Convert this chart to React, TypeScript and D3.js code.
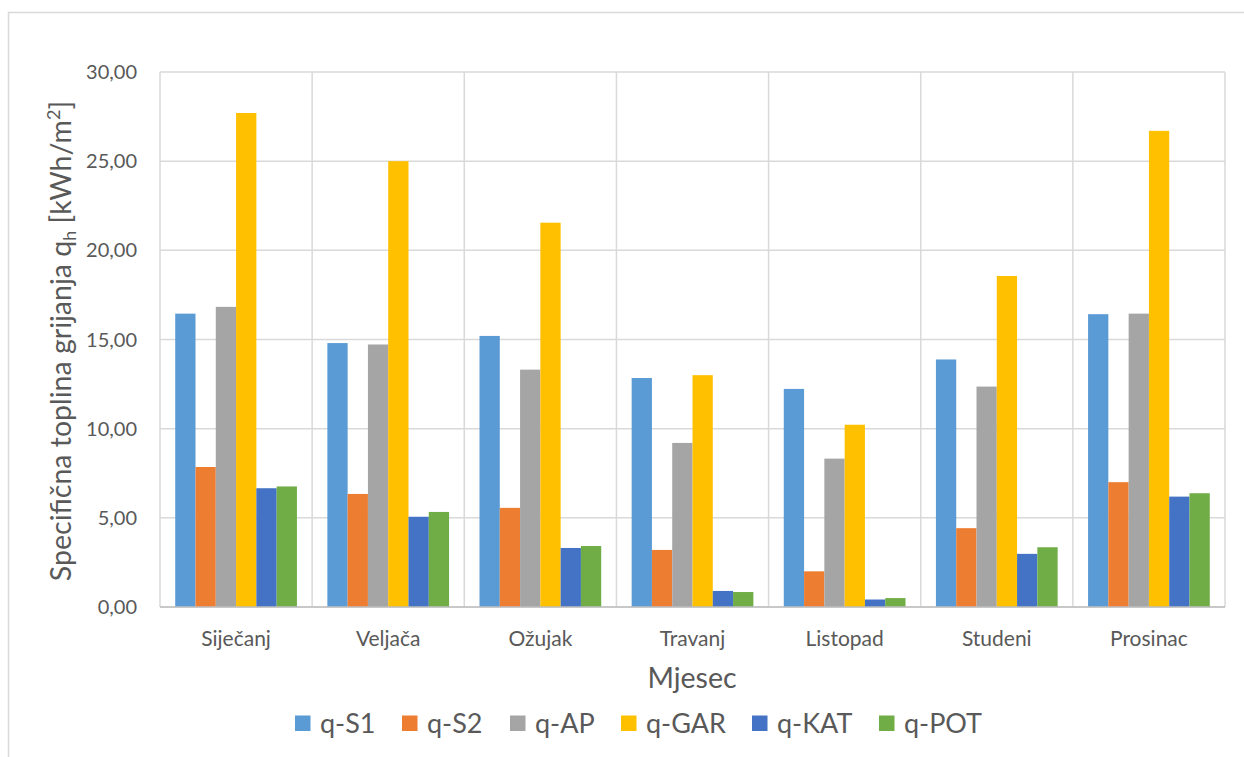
import { useEffect, useRef } from "react";
import * as d3 from "d3";

const WIDTH = 1244;
const HEIGHT = 757;
const MARGIN = { top: 72, right: 19, bottom: 150, left: 160 };
const FONT = "Lato, 'Open Sans', sans-serif";

const months = ["Siječanj", "Veljača", "Ožujak", "Travanj", "Listopad", "Studeni", "Prosinac"];
const seriesNames = ["q-S1", "q-S2", "q-AP", "q-GAR", "q-KAT", "q-POT"];
const seriesColors = ["#5B9BD5", "#ED7D31", "#A5A5A5", "#FFC000", "#4472C4", "#70AD47"];

const qS1 = [16.45, 14.8, 15.2, 12.84, 12.23, 13.88, 16.42];
const qS2 = [7.85, 6.34, 5.56, 3.2, 2.0, 4.42, 7.0];
const qAP = [16.83, 14.72, 13.31, 9.2, 8.32, 12.36, 16.45];
const qGAR = [27.7, 25.0, 21.55, 13.0, 10.22, 18.56, 26.7];
const qKAT = [6.66, 5.06, 3.31, 0.9, 0.42, 2.98, 6.19];
const qPOT = [6.76, 5.33, 3.42, 0.84, 0.5, 3.35, 6.38];
const seriesValues = [qS1, qS2, qAP, qGAR, qKAT, qPOT];

const yTicks = [0, 5, 10, 15, 20, 25, 30];
// legend square x positions
const legendX = [295, 402, 510, 621, 752, 879];

export default function App() {
  const ref = useRef<SVGSVGElement>(null);

  useEffect(() => {
    const svg = d3.select(ref.current);
    svg.selectAll("*").remove();

    const boundsWidth = WIDTH - MARGIN.left - MARGIN.right;
    const boundsHeight = HEIGHT - MARGIN.top - MARGIN.bottom;

    // outer chart frame (cut off on the right and bottom like the reference)
    svg
      .append("rect")
      .attr("x", 8.5)
      .attr("y", 12.5)
      .attr("width", 1300)
      .attr("height", 800)
      .attr("fill", "white")
      .attr("stroke", "#D9D9D9")
      .attr("stroke-width", 1.5);

    const g = svg.append("g").attr("transform", `translate(${MARGIN.left},${MARGIN.top})`);

    const x0 = d3.scaleBand<string>().domain(months).range([0, boundsWidth]);
    const groupPad = (x0.bandwidth() * 1.5) / 7.5 / 2;
    const x1 = d3
      .scaleBand<string>()
      .domain(seriesNames)
      .range([groupPad, x0.bandwidth() - groupPad]);
    const y = d3.scaleLinear().domain([0, 30]).range([boundsHeight, 0]);

    // horizontal grid
    g.selectAll(".hgrid")
      .data(yTicks)
      .join("line")
      .attr("x1", 0)
      .attr("x2", boundsWidth)
      .attr("y1", (d) => y(d))
      .attr("y2", (d) => y(d))
      .attr("stroke", "#D9D9D9")
      .attr("stroke-width", 1.5);

    // vertical grid at category boundaries
    const bounds = months.map((m) => x0(m) as number).concat([boundsWidth]);
    g.selectAll(".vgrid")
      .data(bounds)
      .join("line")
      .attr("x1", (d) => d)
      .attr("x2", (d) => d)
      .attr("y1", 0)
      .attr("y2", boundsHeight)
      .attr("stroke", "#D9D9D9")
      .attr("stroke-width", 1.5);

    // bars
    seriesNames.forEach((s, si) => {
      g.selectAll(`.bar-${si}`)
        .data(seriesValues[si])
        .join("rect")
        .attr("x", (_, i) => (x0(months[i]) as number) + (x1(s) as number))
        .attr("width", x1.bandwidth())
        .attr("y", (d) => y(d))
        .attr("height", (d) => boundsHeight - y(d))
        .attr("fill", seriesColors[si]);
    });

    // x axis line
    g.append("line")
      .attr("x1", 0)
      .attr("x2", boundsWidth)
      .attr("y1", boundsHeight)
      .attr("y2", boundsHeight)
      .attr("stroke", "#BFBFBF")
      .attr("stroke-width", 1.5);

    // y tick labels
    g.selectAll(".ytick")
      .data(yTicks)
      .join("text")
      .attr("x", -23)
      .attr("y", (d) => y(d))
      .attr("dy", "0.35em")
      .attr("text-anchor", "end")
      .attr("font-family", FONT)
      .attr("font-size", 20)
      .attr("fill", "#595959")
      .text((d) => d.toFixed(2).replace(".", ","));

    // x tick labels
    g.selectAll(".xtick")
      .data(months)
      .join("text")
      .attr("x", (d) => (x0(d) as number) + x0.bandwidth() / 2)
      .attr("y", boundsHeight + 39)
      .attr("text-anchor", "middle")
      .attr("font-family", FONT)
      .attr("font-size", 21)
      .attr("fill", "#595959")
      .text((d) => d);

    // x axis title
    svg
      .append("text")
      .attr("x", 692)
      .attr("y", 688)
      .attr("text-anchor", "middle")
      .attr("font-family", FONT)
      .attr("font-size", 28.5)
      .attr("fill", "#595959")
      .text("Mjesec");

    // y axis title
    const yt = svg
      .append("text")
      .attr("transform", "translate(71,341) rotate(-90)")
      .attr("text-anchor", "middle")
      .attr("font-family", FONT)
      .attr("font-size", 28.5)
      .attr("fill", "#595959");
    yt.append("tspan").text("Specifična toplina grijanja q");
    yt.append("tspan").attr("font-size", 18).attr("dy", 5).text("h");
    yt.append("tspan").attr("dy", -5).text(" [kWh/m");
    yt.append("tspan").attr("font-size", 18).attr("dy", -11).text("2");
    yt.append("tspan").attr("dy", 11).text("]");

    // legend
    const lg = svg.append("g");
    seriesNames.forEach((s, i) => {
      lg.append("rect")
        .attr("x", legendX[i])
        .attr("y", 715.5)
        .attr("width", 15.5)
        .attr("height", 15.5)
        .attr("fill", seriesColors[i]);
      lg.append("text")
        .attr("x", legendX[i] + 25)
        .attr("y", 733)
        .attr("font-family", FONT)
        .attr("font-size", 27)
        .attr("fill", "#595959")
        .text(s);
    });
  }, []);

  return (
    <svg
      ref={ref}
      width={WIDTH}
      height={HEIGHT}
      style={{ position: "absolute", left: 0, top: 0 }}
    />
  );
}
